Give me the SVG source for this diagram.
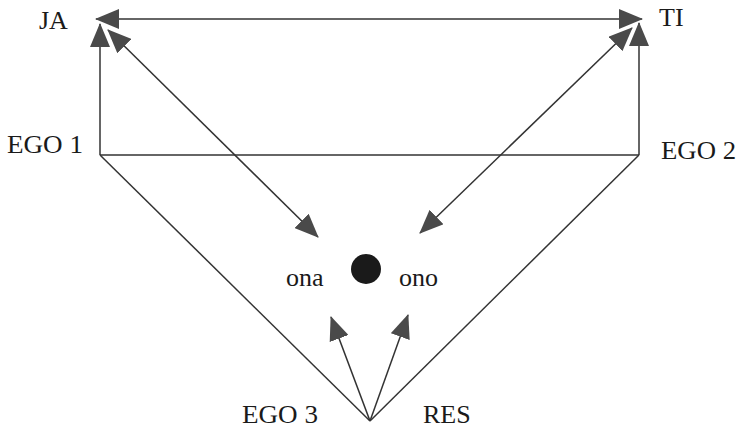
<svg xmlns="http://www.w3.org/2000/svg" width="740" height="428" viewBox="0 0 740 428">
<style>
.lbl{font-family:"Liberation Serif","Times New Roman",serif;font-size:26px;fill:#1a1a1a}
.ln{stroke:#333;stroke-width:1.5;fill:none}
.ar{marker-end:url(#ah)}
.ar2{marker-end:url(#ah);marker-start:url(#ah)}
</style>
<defs>
<marker id="ah" markerUnits="userSpaceOnUse" markerWidth="24" markerHeight="20" refX="23" refY="10" orient="auto-start-reverse" viewBox="0 0 24 20">
<path d="M0,0 L24,10 L0,20 z" fill="#4a4a4a"/>
</marker>
</defs>
<rect width="740" height="428" fill="#fff"/>
<g id="connectors">
<line class="ln ar2" x1="96" y1="19" x2="642" y2="19"/>
<line class="ln ar" x1="100" y1="155" x2="100" y2="24"/>
<line class="ln ar" x1="639" y1="155" x2="639" y2="23"/>
<line class="ln ar2" x1="108" y1="30" x2="318" y2="237"/>
<line class="ln ar2" x1="632" y1="28" x2="420" y2="233"/>
<line class="ln" x1="100" y1="155" x2="639" y2="155"/>
<line class="ln" x1="100" y1="155" x2="370" y2="421"/>
<line class="ln" x1="639" y1="155" x2="370" y2="421"/>
<line class="ln ar" x1="370" y1="421" x2="331" y2="317"/>
<line class="ln ar" x1="370" y1="421" x2="408" y2="315"/>
</g>
<g id="node-ja"><text class="lbl" x="39" y="29">JA</text></g>
<g id="node-ti"><text class="lbl" x="659" y="26">TI</text></g>
<g id="node-ego1"><text class="lbl" x="7" y="153" textLength="76" lengthAdjust="spacingAndGlyphs">EGO 1</text></g>
<g id="node-ego2"><text class="lbl" x="661" y="159" textLength="75" lengthAdjust="spacingAndGlyphs">EGO 2</text></g>
<g id="node-ego3"><text class="lbl" x="242" y="423" textLength="76" lengthAdjust="spacingAndGlyphs">EGO 3</text></g>
<g id="node-res"><text class="lbl" x="423" y="423">RES</text></g>
<g id="node-ona"><text class="lbl" x="286" y="286">ona</text></g>
<g id="node-ono"><text class="lbl" x="399" y="286">ono</text></g>
<g id="node-center"><circle cx="366" cy="269" r="15" fill="#1a1a1a"/></g>
</svg>
